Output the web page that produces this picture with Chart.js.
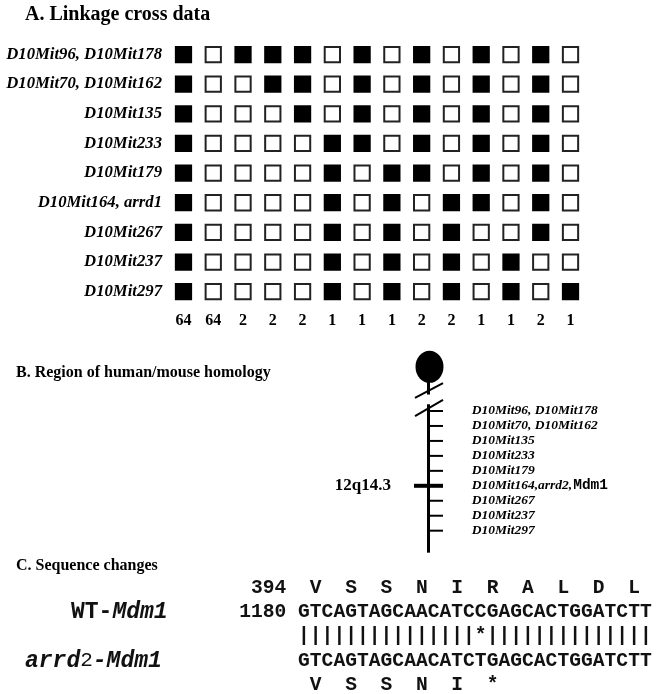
<!DOCTYPE html>
<html>
<head>
<meta charset="utf-8">
<script src="https://cdn.jsdelivr.net/npm/chart.js@4.4.1/dist/chart.umd.min.js"></script>
<style>
  html, body { margin: 0; padding: 0; background: #fff; }
  #fig { position: relative; width: 657px; height: 694px; }
  #fig canvas { position: absolute; left: 0; top: 0; }
</style>
</head>
<body>
<div id="fig">
  <canvas id="panelA" width="657" height="694"></canvas>
  <canvas id="panelB" width="657" height="694"></canvas>
  <canvas id="panelC" width="657" height="694"></canvas>
</div>
<script>
// ---------- A. Linkage cross data ----------
// Markers in map order, one row each
const markerLabels = [
  'D10Mit96, D10Mit178', 'D10Mit70, D10Mit162', 'D10Mit135', 'D10Mit233',
  'D10Mit179', 'D10Mit164, arrd1', 'D10Mit267', 'D10Mit237', 'D10Mit297'
];
// Genotype per haplotype class (1 = filled box, 0 = open box)
const hap96_178  = [1,0,1,1,1,0,1,0,1,0,1,0,1,0];
const hap70_162  = [1,0,0,1,1,0,1,0,1,0,1,0,1,0];
const hap135     = [1,0,0,0,1,0,1,0,1,0,1,0,1,0];
const hap233     = [1,0,0,0,0,1,1,0,1,0,1,0,1,0];
const hap179     = [1,0,0,0,0,1,0,1,1,0,1,0,1,0];
const hap164     = [1,0,0,0,0,1,0,1,0,1,1,0,1,0];
const hap267     = [1,0,0,0,0,1,0,1,0,1,0,0,1,0];
const hap237     = [1,0,0,0,0,1,0,1,0,1,0,1,0,0];
const hap297     = [1,0,0,0,0,1,0,1,0,1,0,1,0,1];
const haplotypeRows = [hap96_178, hap70_162, hap135, hap233, hap179, hap164, hap267, hap237, hap297];
// Number of animals in each haplotype class
const classCounts = [64,64,2,2,2,1,1,1,2,2,1,1,2,1];

// ---------- B. Region of human/mouse homology ----------
const mapLabels = [
  'D10Mit96, D10Mit178', 'D10Mit70, D10Mit162', 'D10Mit135', 'D10Mit233',
  'D10Mit179', 'D10Mit164,arrd2,', 'D10Mit267', 'D10Mit237', 'D10Mit297'
];
const locusGene = 'Mdm1';
const locusIndex = 5;
const humanBand = '12q14.3';

// ---------- C. Sequence changes ----------
const aminoStart = 394;
const nucleotideStart = 1180;
const wtSequence  = 'GTCAGTAGCAACATCCGAGCACTGGATCTT';
const mutSequence = 'GTCAGTAGCAACATCTGAGCACTGGATCTT';
const wtProtein  = ['V','S','S','N','I','R','A','L','D','L'];
const mutProtein = ['V','S','S','N','I','*'];

const SERIF = '"Liberation Serif", "Times New Roman", serif';
const MONO  = '"Liberation Mono", "Courier New", monospace';

Chart.defaults.color = '#000';
Chart.defaults.animation = false;
Chart.defaults.events = [];
Chart.defaults.plugins.legend.display = false;
Chart.defaults.plugins.tooltip.enabled = false;

function panelTitle(text, x, y, size) {
  return {
    id: 'panelTitle',
    afterDraw(chart) {
      const ctx = chart.ctx;
      ctx.save();
      ctx.font = `bold ${size}px ${SERIF}`;
      ctx.fillStyle = '#000';
      ctx.textAlign = 'left';
      ctx.textBaseline = 'middle';
      ctx.fillText(text, x, y);
      ctx.restore();
    }
  };
}

// ----- Panel A chart -----
const filledCells = [], openCells = [];
haplotypeRows.forEach((row, r) => row.forEach((g, c) => (g ? filledCells : openCells).push({ x: c, y: r })));

new Chart(document.getElementById('panelA'), {
  type: 'scatter',
  data: {
    datasets: [
      { data: filledCells, pointStyle: 'rect', pointRadius: 12.2, backgroundColor: '#000', borderWidth: 0 },
      { data: openCells, pointStyle: 'rect', pointRadius: 10.8, backgroundColor: '#fff', borderColor: '#222', borderWidth: 2 }
    ]
  },
  options: {
    responsive: false,
    layout: { padding: { left: 0, top: 39.7, right: 71.6, bottom: 357.5 } },
    scales: {
      x: {
        type: 'linear', min: -0.5, max: classCounts.length - 0.5,
        afterBuildTicks: s => { s.ticks = classCounts.map((_, i) => ({ value: i })); },
        afterFit: s => { s.height = 30; },
        grid: { display: false, drawTicks: false }, border: { display: false },
        ticks: { autoSkip: false, maxRotation: 0, padding: 5,
          font: { family: SERIF, size: 16, weight: 'bold' },
          callback: v => classCounts[v] }
      },
      y: {
        type: 'linear', min: -0.5, max: markerLabels.length - 0.5, reverse: true,
        afterBuildTicks: s => { s.ticks = markerLabels.map((_, i) => ({ value: i })); },
        afterFit: s => { s.width = 168.6; },
        grid: { display: false, drawTicks: false }, border: { display: false },
        ticks: { autoSkip: false, padding: 6.6,
          font: { family: SERIF, size: 16.7, weight: 'bold', style: 'italic' },
          callback: v => markerLabels[v] }
      }
    }
  },
  plugins: [panelTitle('A. Linkage cross data', 25, 15, 20)]
});

// ----- Panel B chart: mouse chromosome 10 map -----
const chromosome = {
  id: 'chromosome',
  beforeDatasetsDraw(chart) {
    const { ctx, scales: { x, y } } = chart;
    const cx = x.getPixelForValue(0);
    const y0 = y.getPixelForValue(0);
    const step = y.getPixelForValue(1) - y0;
    const seg = (x1, y1, x2, y2) => { ctx.beginPath(); ctx.moveTo(x1, y1); ctx.lineTo(x2, y2); ctx.stroke(); };
    ctx.save();
    ctx.fillStyle = '#000';
    ctx.strokeStyle = '#000';
    // centromere
    ctx.beginPath();
    ctx.ellipse(cx + 1, y0 - 2.95 * step, 14, 16, 0, 0, Math.PI * 2);
    ctx.fill();
    // chromosome body, interrupted by the break
    ctx.lineWidth = 3;
    seg(cx, y0 - 2.1 * step, cx, y0 - 1.1 * step);
    seg(cx, y0 - 0.45 * step, cx, y.getPixelForValue(9.47));
    // break marks
    ctx.lineWidth = 2;
    seg(cx - 13.5, y0 - 0.87 * step, cx + 14.5, y0 - 1.87 * step);
    seg(cx - 13.5, y0 + 0.35 * step, cx + 14.5, y0 - 0.74 * step);
    ctx.restore();
  },
  afterDatasetsDraw(chart) {
    const { ctx, chartArea } = chart;
    const meta = chart.getDatasetMeta(0);
    const lx = chartArea.right + 28.7;
    ctx.save();
    ctx.fillStyle = '#000';
    ctx.textBaseline = 'middle';
    ctx.textAlign = 'left';
    meta.data.forEach((el, i) => {
      ctx.font = `italic bold 13.5px ${SERIF}`;
      ctx.fillText(mapLabels[i], lx, el.y);
      if (i === locusIndex) {
        const w = ctx.measureText(mapLabels[i]).width;
        ctx.font = `bold 14.5px ${MONO}`;
        ctx.fillText(locusGene, lx + w + 1, el.y);
      }
    });
    const band = meta.data[locusIndex];
    ctx.font = `bold 17px ${SERIF}`;
    ctx.textAlign = 'right';
    ctx.fillText(humanBand, chartArea.left - 23, band.y);
    ctx.restore();
  }
};

new Chart(document.getElementById('panelB'), {
  type: 'scatter',
  data: {
    datasets: [{
      data: mapLabels.map((_, i) => ({ x: i === locusIndex ? 0 : 0.5, y: i })),
      pointStyle: 'line',
      pointRadius: c => (c.dataIndex === locusIndex ? 14.5 : 7.25),
      borderWidth: c => (c.dataIndex === locusIndex ? 4 : 2),
      borderColor: '#000',
      clip: false
    }]
  },
  options: {
    responsive: false,
    layout: { padding: { left: 414, right: 214, top: 351.16, bottom: 133.4 } },
    scales: {
      x: { type: 'linear', min: -1, max: 1, display: false },
      y: { type: 'linear', min: -4, max: 10, reverse: true, display: false }
    }
  },
  plugins: [chromosome, panelTitle('B. Region of human/mouse homology', 16, 373, 16)]
});

// ----- Panel C chart: aligned nucleotide and protein sequences -----
const matchRow = Array.from(wtSequence, (b, i) => (b === mutSequence[i] ? '|' : '*'));
const seqRows = [
  { chars: wtProtein, row: 0, codon: true },
  { chars: Array.from(wtSequence), row: 1 },
  { chars: matchRow, row: 2 },
  { chars: Array.from(mutSequence), row: 3 },
  { chars: mutProtein, row: 4, codon: true }
];

const seqText = {
  id: 'seqText',
  afterDatasetsDraw(chart) {
    const { ctx, scales: { x, y } } = chart;
    ctx.save();
    ctx.fillStyle = '#111';
    ctx.textBaseline = 'middle';
    ctx.font = `bold 19.6px ${MONO}`;
    ctx.textAlign = 'center';
    chart.data.datasets.forEach((ds, di) => {
      chart.getDatasetMeta(di).data.forEach((el, i) => ctx.fillText(ds.chars[i], el.x, el.y));
    });
    // numbering
    ctx.textAlign = 'right';
    ctx.fillText(String(aminoStart), x.getPixelForValue(-1.5), y.getPixelForValue(0));
    ctx.fillText(String(nucleotideStart), x.getPixelForValue(-1.5), y.getPixelForValue(1));
    // allele names
    ctx.textAlign = 'left';
    const runs = (parts, x0, yy) => {
      let xx = x0;
      parts.forEach(([t, f]) => { ctx.font = f; ctx.fillText(t, xx, yy); xx += ctx.measureText(t).width; });
    };
    const B = `bold 23px ${MONO}`, BI = `italic bold 23px ${MONO}`, R = `21px ${MONO}`;
    runs([['WT-', B], ['Mdm1', BI]], 71, y.getPixelForValue(1));
    runs([['arrd', BI], ['2', R], ['-Mdm1', BI]], 25, y.getPixelForValue(3));
    ctx.restore();
  }
};

new Chart(document.getElementById('panelC'), {
  type: 'scatter',
  data: {
    datasets: seqRows.map(r => ({
      data: r.chars.map((_, i) => ({ x: r.codon ? 3 * i + 1 : i, y: r.row })),
      chars: r.chars,
      pointRadius: 0
    }))
  },
  options: {
    responsive: false,
    layout: { padding: { left: 298, right: 5.3, top: 563.75, bottom: 9 } },
    scales: {
      x: { type: 'linear', min: -0.5, max: wtSequence.length - 0.5, display: false },
      y: { type: 'linear', min: -1, max: 4, reverse: true, display: false }
    }
  },
  plugins: [seqText, panelTitle('C. Sequence changes', 16, 566, 16)]
});
</script>
</body>
</html>
